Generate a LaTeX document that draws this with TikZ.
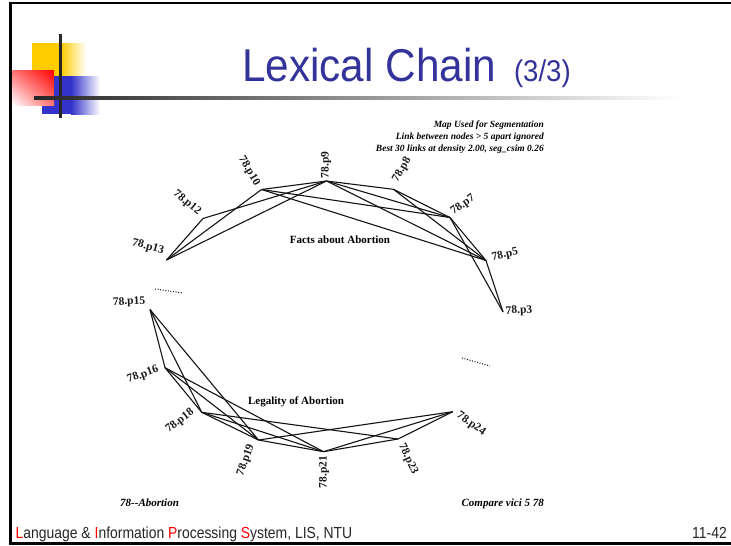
\documentclass[tikz,border=0pt]{standalone}
\usepackage{fontspec}
\usetikzlibrary{shadings}
\setmainfont{Liberation Serif}
\newfontfamily\titlefont[FakeStretch=0.92]{Liberation Sans}
\newfontfamily\footfont[FakeStretch=0.87]{Liberation Sans}
\definecolor{titleblue}{RGB}{51,51,153}
\definecolor{decoyellow}{RGB}{255,204,0}
\definecolor{decoblue}{RGB}{51,51,204}
\definecolor{decored}{RGB}{255,0,0}
\definecolor{linkcol}{RGB}{20,20,20}
\begin{document}
\begin{tikzpicture}[x=1pt,y=-1pt,
  link/.style={line width=1.1pt, linkcol, line join=round},
  lab/.style={font=\fontsize{11.5}{13}\selectfont\bfseries, inner sep=0pt, text=black!90},
  note/.style={font=\fontsize{9.5}{10}\selectfont\bfseries\itshape, inner sep=0pt, anchor=base east},
  capt/.style={font=\fontsize{11}{12}\selectfont\bfseries, inner sep=0pt},
  corner/.style={font=\fontsize{11}{12}\selectfont\bfseries\itshape, inner sep=0pt, anchor=base west},
  dots/.style={line width=1pt, dash pattern=on 1pt off 1.6pt, linkcol},
]
\useasboundingbox (0,0) rectangle (731,546);
\fill[white] (0,0) rectangle (731,546);
% slide border
\draw[line width=2.6pt] (731,3) -- (10.2,3) -- (10.2,543.2) -- (731,543.2);
% decoration
\fill[decoyellow] (32,43) rectangle (61,76);
\shade[left color=decoyellow, right color=white] (61,43) rectangle (86,76);
\fill[decoblue] (42,76) rectangle (71,114);
\shade[left color=decoblue, right color=white] (71,76) rectangle (100,114);
\shade[upper right=decored, lower left=white, upper left=decored!55!white, lower right=decored!55!white] (12,70) rectangle (54,105);
\draw[line width=3pt, black!85] (60.3,34) -- (60.3,118);
\shade[left color=black!85, right color=white] (34,96.8) rectangle (680,99.8);
% title
\node[anchor=base west, inner sep=0pt, text=titleblue, font=\titlefont\fontsize{46}{50}\selectfont] (title) at (242,81.7) {Lexical Chain\hspace{6pt} {\fontsize{30}{34}\selectfont(3/3)}};
% footer
\node[anchor=base west, inner sep=0pt, font=\footfont\fontsize{16}{18}\selectfont, text=black!85] (foot) at (15.5,538.5) {{\color{red}L}anguage \& {\color{red}I}nformation {\color{red}P}rocessing {\color{red}S}ystem, LIS, NTU};
\node[anchor=base east, inner sep=0pt, font=\footfont\fontsize{16}{18}\selectfont, text=black!85] (pageno) at (727,538.5) {11-42};
% notes
\node[note] (n1) at (544,127) {Map Used for Segmentation};
\node[note] (n2) at (544,139) {Link between nodes > 5 apart ignored};
\node[note] (n3) at (544,151) {Best 30 links at density 2.00, seg\_csim 0.26};
\node[corner] (c1) at (120,506) {78{-}{-}Abortion};
\node[corner, anchor=base east] (c2) at (544,506) {Compare vici 5 78};
% vertices
\coordinate (p13) at (166.5,260);
\coordinate (p12) at (203,218.5);
\coordinate (p10) at (261.5,189.5);
\coordinate (p9) at (326.5,181);
\coordinate (p8) at (393.5,189.3);
\coordinate (p7) at (450,217.5);
\coordinate (p5) at (486,260.5);
\coordinate (p3) at (503,312);
\coordinate (p15) at (150,309.5);
\coordinate (p16) at (165,367.7);
\coordinate (p18) at (201.7,412.3);
\coordinate (p19) at (258.5,440);
\coordinate (p21) at (323.5,451.7);
\coordinate (p23) at (398,439);
\coordinate (p24) at (452.7,411.7);
% top links
\foreach \a/\b in {p13/p12, p13/p10, p13/p9, p12/p9, p10/p9, p10/p7, p10/p5, p9/p8, p9/p7, p9/p5, p8/p7, p8/p5, p7/p5, p7/p3, p5/p3}
  \draw[link] (\a) -- (\b);
% bottom links
\foreach \a/\b in {p15/p16, p15/p18, p15/p19, p16/p18, p16/p19, p16/p21, p18/p19, p18/p21, p18/p23, p19/p21, p19/p24, p21/p23, p21/p24, p23/p24}
  \draw[link] (\a) -- (\b);
% labels
\node[lab, rotate=-15] (l13) at (148,247) {78.p13};
\node[lab, rotate=-40] (l12) at (187,203) {78.p12};
\node[lab, rotate=-60] (l10) at (249,171) {78.p10};
\node[lab, rotate=90] (l9) at (326,165) {78.p9};
\node[lab, rotate=60] (l8) at (402,170) {78.p8};
\node[lab, rotate=35] (l7) at (463,205) {78.p7};
\node[lab, rotate=12] (l5) at (505,255) {78.p5};
\node[lab, rotate=3] (l3) at (519,311) {78.p3};
\node[lab, rotate=3] (l15) at (129,302) {78.p15};
\node[lab, rotate=20] (l16) at (143,375) {78.p16};
\node[lab, rotate=38] (l18) at (180,421) {78.p18};
\node[lab, rotate=70] (l19) at (246,460) {78.p19};
\node[lab, rotate=90] (l21) at (324,472) {78.p21};
\node[lab, rotate=-65] (l23) at (408,459) {78.p23};
\node[lab, rotate=-35] (l24) at (471,424) {78.p24};
% captions
\node[capt] (facts) at (340,240) {Facts about Abortion};
\node[capt] (legal) at (296,402) {Legality of Abortion};
% dotted gaps
\coordinate (d1a) at (155,289);
\coordinate (d1b) at (183,293);
\coordinate (d2a) at (462,358);
\coordinate (d2b) at (490,366);
\draw[dots] (d1a) -- (d1b);
\draw[dots] (d2a) -- (d2b);
\end{tikzpicture}
\end{document}
